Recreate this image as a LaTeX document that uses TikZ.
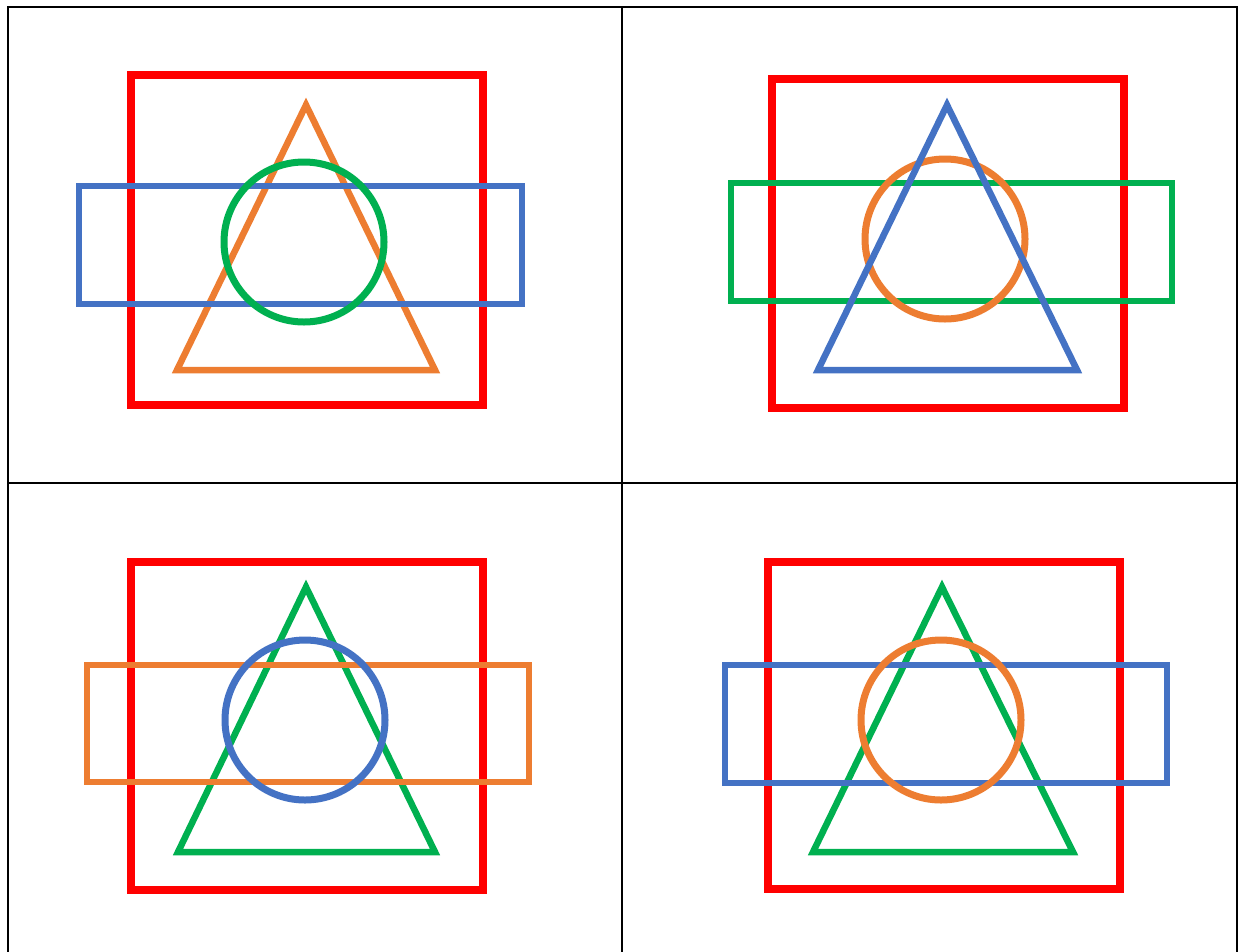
\documentclass[tikz,border=0pt]{standalone}
\definecolor{cRed}{HTML}{FF0000}
\definecolor{cOrange}{HTML}{ED7D31}
\definecolor{cBlue}{HTML}{4472C4}
\definecolor{cGreen}{HTML}{00B050}
\tikzset{
  grid/.style={draw=black, line width=2pt},
  shp/.style={line width=6.5pt, line join=miter},
  sq/.style={shp, draw=cRed, line width=7.5pt},
  circ/.style={shp, line width=7pt},
}
\begin{document}
\begin{tikzpicture}[x=1pt,y=-1pt]
\useasboundingbox (0,0) rectangle (1238,951);
\fill[white] (0,0) rectangle (1238,951);
\begin{scope}
\clip (0,0) rectangle (1238,951);
% table grid
\draw[grid] (8,960) -- (8,7) -- (1237,7) -- (1237,960);
\draw[grid] (622,7) -- (622,960);
\draw[grid] (8,483) -- (1237,483);
\end{scope}
% panel 1
\draw[sq] (131,75) rectangle (483,405);
\draw[shp, draw=cOrange] (306,105) -- (435,370) -- (177,370) -- cycle;
\draw[shp, draw=cBlue] (79,186) rectangle (522,304);
\draw[circ, draw=cGreen] (304,242) circle (80);
% panel 2
\draw[sq] (772,79) rectangle (1124,408);
\draw[shp, draw=cGreen] (731,183) rectangle (1172,301);
\draw[circ, draw=cOrange] (945,239) circle (80);
\draw[shp, draw=cBlue] (947,105) -- (1077,370) -- (818,370) -- cycle;
% panel 3
\draw[sq] (131,562) rectangle (483,890);
\draw[shp, draw=cGreen] (306,587) -- (435,852) -- (178,852) -- cycle;
\draw[shp, draw=cOrange] (87,665) rectangle (529,782);
\draw[circ, draw=cBlue] (305,720) circle (80);
% panel 4
\draw[sq] (768,562) rectangle (1120,889);
\draw[shp, draw=cGreen] (942,587) -- (1073,852) -- (813,852) -- cycle;
\draw[shp, draw=cBlue] (725,665) rectangle (1167,783);
\draw[circ, draw=cOrange] (941,720) circle (80);
\end{tikzpicture}
\end{document}
